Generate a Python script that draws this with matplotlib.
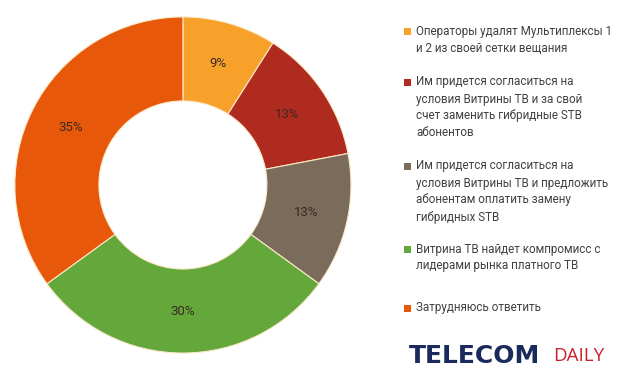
import matplotlib
matplotlib.use("Agg")
import matplotlib.pyplot as plt
from matplotlib.patches import Rectangle

labels = [
    "Операторы удалят Мультиплексы 1\nи 2 из своей сетки вещания",
    "Им придется согласиться на\nусловия Витрины ТВ и за свой\nсчет заменить гибридные STB\nабонентов",
    "Им придется согласиться на\nусловия Витрины ТВ и предложить\nабонентам оплатить замену\nгибридных STB",
    "Витрина ТВ найдет компромисс с\nлидерами рынка платного ТВ",
    "Затрудняюсь ответить",
]
values = [9, 13, 13, 30, 35]
colors = ["#F7A12B", "#AF2A1F", "#7A6B5B", "#64A83C", "#E8580B"]

plt.rcParams['font.family'] = ['Roboto', 'DejaVu Sans']

W, H = 619, 385
fig = plt.figure(figsize=(W / 100, H / 100), dpi=100)
ax = fig.add_axes([0.024, 0.083, 0.543, 0.873])
wedges, texts, autotexts = ax.pie(
    values, colors=colors, startangle=90, counterclock=False,
    radius=1.0, autopct=lambda p: f"{p:.0f}%", pctdistance=0.75,
    wedgeprops=dict(width=0.5, edgecolor="#FBE9C8", linewidth=0.8),
    textprops=dict(fontsize=9.5, color="#3a2a20"))
ax.set_aspect("equal")
ax.set_xlim(-1.0, 1.0)
ax.set_ylim(-1.0, 1.0)

# fit legend font so that the widest line is ~196 px, like the reference
renderer = fig.canvas.get_renderer()
probe = fig.text(0, 0, labels[0].split("\n")[0], fontsize=10)
wpx = probe.get_window_extent(renderer).width
probe.remove()
fs = min(10.0, 10.0 * 196.0 / wpx)

entry_y = [31, 82, 166, 249, 308]
line_h = 17
for lab, col, y0 in zip(labels, colors, entry_y):
    fig.add_artist(Rectangle((404 / W, 1 - (y0 + 4) / H), 7 / W, 7 / H,
                             transform=fig.transFigure, facecolor=col, edgecolor="none"))
    for i, line in enumerate(lab.split("\n")):
        fig.text(416 / W, 1 - (y0 + i * line_h) / H, line, fontsize=fs,
                 color="#404040", ha="left", va="center")

fig.text(409 / W, 0.075, "TELECOM", fontsize=18, fontweight="bold", color="#1B2A5C",
         va="center", ha="left", family="DejaVu Sans")
fig.text(553 / W, 0.075, "DAILY", fontsize=13.5, color="#C92229", va="center", ha="left",
         family="Open Sans")

fig.savefig("out.png", dpi=100, facecolor="white")
